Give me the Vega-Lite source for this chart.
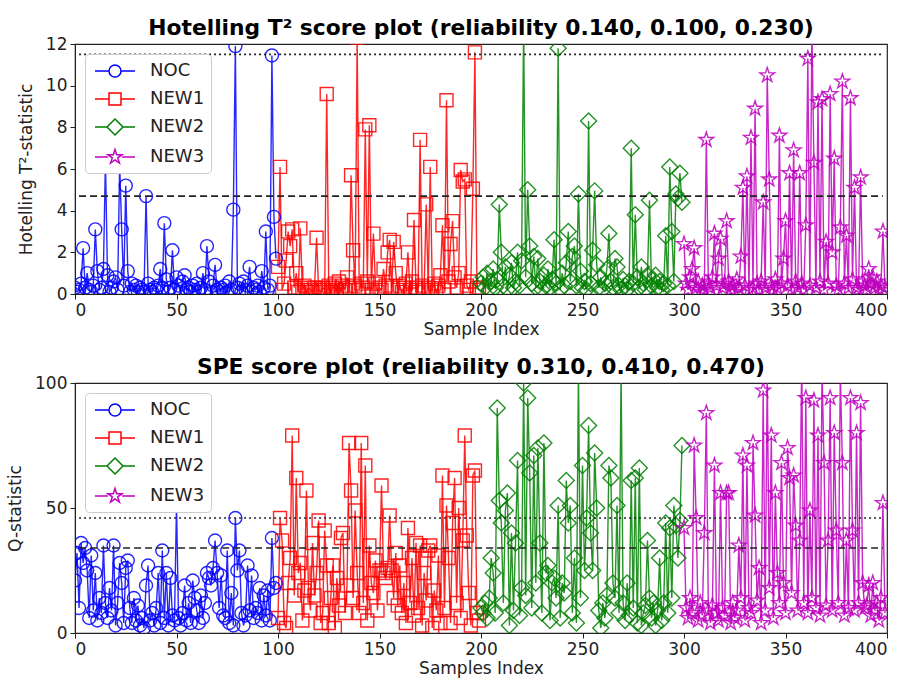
{
"$schema": "https://vega.github.io/schema/vega-lite/v6.json",
"background": "white",
"padding": {"left": 5, "top": 17, "right": 5, "bottom": 2},
"spacing": 18,
"config": {
  "font": "DejaVu Sans",
  "view": {"stroke": "#222", "strokeWidth": 1.2},
  "axis": {"grid": false, "domainColor": "#222", "tickColor": "#222", "labelColor": "#222", "titleColor": "#222", "labelFontSize": 17, "titleFontSize": 17, "titleFontWeight": "normal", "tickSize": 5, "labelPadding": 3, "labelFont": "DejaVu Sans", "titleFont": "DejaVu Sans"},
  "axisX": {"titlePadding": 3},
  "axisY": {"titlePadding": 10},
  "title": {"font": "DejaVu Sans", "fontSize": 21.8, "fontWeight": "bold", "color": "#000", "frame": "group", "anchor": "middle", "offset": -5}
},
"data": {"values": [
{"i":0,"g":"NOC","t":0.3,"q":21},{"i":1,"g":"NOC","t":0.1,"q":32},{"i":2,"g":"NOC","t":0.2,"q":10},{"i":3,"g":"NOC","t":0.5,"q":36},{"i":4,"g":"NOC","t":2.2,"q":28},{"i":5,"g":"NOC","t":0.3,"q":34},{"i":6,"g":"NOC","t":1.0,"q":25},{"i":7,"g":"NOC","t":0.2,"q":6},{"i":8,"g":"NOC","t":0.1,"q":31},{"i":9,"g":"NOC","t":0.4,"q":9},
{"i":10,"g":"NOC","t":3.1,"q":24},{"i":11,"g":"NOC","t":1.1,"q":5},{"i":12,"g":"NOC","t":0.2,"q":14},{"i":13,"g":"NOC","t":0.3,"q":8},{"i":14,"g":"NOC","t":1.2,"q":35},{"i":15,"g":"NOC","t":6.4,"q":12},{"i":16,"g":"NOC","t":0.9,"q":6},{"i":17,"g":"NOC","t":0.1,"q":18},{"i":18,"g":"NOC","t":0.3,"q":9},{"i":19,"g":"NOC","t":0.6,"q":35},
{"i":20,"g":"NOC","t":0.8,"q":3},{"i":21,"g":"NOC","t":0.2,"q":12},{"i":22,"g":"NOC","t":6.2,"q":28},{"i":23,"g":"NOC","t":3.1,"q":20},{"i":24,"g":"NOC","t":0.4,"q":4},{"i":25,"g":"NOC","t":5.2,"q":26},{"i":26,"g":"NOC","t":1.1,"q":29},{"i":27,"g":"NOC","t":0.1,"q":10},{"i":28,"g":"NOC","t":0.5,"q":4},{"i":29,"g":"NOC","t":0.2,"q":14},
{"i":30,"g":"NOC","t":0.4,"q":5},{"i":31,"g":"NOC","t":0.1,"q":11},{"i":32,"g":"NOC","t":0.3,"q":3},{"i":33,"g":"NOC","t":0.2,"q":6},{"i":34,"g":"NOC","t":0.1,"q":2},{"i":35,"g":"NOC","t":4.7,"q":19},{"i":36,"g":"NOC","t":0.5,"q":27},{"i":37,"g":"NOC","t":0.2,"q":5},{"i":38,"g":"NOC","t":0.1,"q":8},{"i":39,"g":"NOC","t":0.3,"q":3},
{"i":40,"g":"NOC","t":0.2,"q":10},{"i":41,"g":"NOC","t":0.4,"q":24},{"i":42,"g":"NOC","t":1.2,"q":4},{"i":43,"g":"NOC","t":0.3,"q":33},{"i":44,"g":"NOC","t":3.4,"q":6},{"i":45,"g":"NOC","t":0.7,"q":24},{"i":46,"g":"NOC","t":0.1,"q":3},{"i":47,"g":"NOC","t":0.3,"q":22},{"i":48,"g":"NOC","t":2.1,"q":7},{"i":49,"g":"NOC","t":0.2,"q":5},
{"i":50,"g":"NOC","t":0.8,"q":51},{"i":51,"g":"NOC","t":0.4,"q":6},{"i":52,"g":"NOC","t":0.1,"q":3},{"i":53,"g":"NOC","t":0.6,"q":8},{"i":54,"g":"NOC","t":0.9,"q":19},{"i":55,"g":"NOC","t":0.2,"q":5},{"i":56,"g":"NOC","t":0.3,"q":12},{"i":57,"g":"NOC","t":0.1,"q":4},{"i":58,"g":"NOC","t":0.4,"q":21},{"i":59,"g":"NOC","t":0.2,"q":14},
{"i":60,"g":"NOC","t":0.5,"q":9},{"i":61,"g":"NOC","t":0.1,"q":4},{"i":62,"g":"NOC","t":0.3,"q":15},{"i":63,"g":"NOC","t":1.0,"q":6},{"i":64,"g":"NOC","t":0.2,"q":12},{"i":65,"g":"NOC","t":2.3,"q":24},{"i":66,"g":"NOC","t":0.6,"q":22},{"i":67,"g":"NOC","t":0.1,"q":19},{"i":68,"g":"NOC","t":0.4,"q":26},{"i":69,"g":"NOC","t":1.4,"q":37},
{"i":70,"g":"NOC","t":0.2,"q":24},{"i":71,"g":"NOC","t":0.1,"q":10},{"i":72,"g":"NOC","t":0.3,"q":23},{"i":73,"g":"NOC","t":0.2,"q":7},{"i":74,"g":"NOC","t":0.4,"q":6},{"i":75,"g":"NOC","t":0.1,"q":33},{"i":76,"g":"NOC","t":0.6,"q":4},{"i":77,"g":"NOC","t":0.2,"q":16},{"i":78,"g":"NOC","t":4.05,"q":3},{"i":79,"g":"NOC","t":11.9,"q":46},
{"i":80,"g":"NOC","t":0.3,"q":25},{"i":81,"g":"NOC","t":0.5,"q":33},{"i":82,"g":"NOC","t":0.1,"q":8},{"i":83,"g":"NOC","t":0.6,"q":3},{"i":84,"g":"NOC","t":0.2,"q":7},{"i":85,"g":"NOC","t":0.4,"q":27},{"i":86,"g":"NOC","t":1.3,"q":9},{"i":87,"g":"NOC","t":0.1,"q":23},{"i":88,"g":"NOC","t":0.3,"q":6},{"i":89,"g":"NOC","t":0.2,"q":10},
{"i":90,"g":"NOC","t":0.4,"q":8},{"i":91,"g":"NOC","t":0.1,"q":18},{"i":92,"g":"NOC","t":1.1,"q":5},{"i":93,"g":"NOC","t":0.3,"q":15},{"i":94,"g":"NOC","t":3.0,"q":7},{"i":95,"g":"NOC","t":0.2,"q":17},{"i":96,"g":"NOC","t":0.4,"q":5},{"i":97,"g":"NOC","t":11.45,"q":38},{"i":98,"g":"NOC","t":3.7,"q":18},{"i":99,"g":"NOC","t":1.7,"q":20},
{"i":100,"g":"NEW1","t":1.3,"q":6},{"i":101,"g":"NEW1","t":6.1,"q":46},{"i":102,"g":"NEW1","t":0.2,"q":37},{"i":103,"g":"NEW1","t":0.5,"q":4},{"i":104,"g":"NEW1","t":1.6,"q":2},{"i":105,"g":"NEW1","t":3.0,"q":20},{"i":106,"g":"NEW1","t":2.3,"q":30},{"i":107,"g":"NEW1","t":3.1,"q":79},{"i":108,"g":"NEW1","t":0.3,"q":15},{"i":109,"g":"NEW1","t":1.0,"q":62},
{"i":110,"g":"NEW1","t":0.1,"q":24},{"i":111,"g":"NEW1","t":3.15,"q":28},{"i":112,"g":"NEW1","t":0.2,"q":5},{"i":113,"g":"NEW1","t":0.4,"q":17},{"i":114,"g":"NEW1","t":0.1,"q":57},{"i":115,"g":"NEW1","t":0.3,"q":18},{"i":116,"g":"NEW1","t":0.2,"q":9},{"i":117,"g":"NEW1","t":0.1,"q":36},{"i":118,"g":"NEW1","t":0.3,"q":15},{"i":119,"g":"NEW1","t":2.7,"q":24},
{"i":120,"g":"NEW1","t":0.2,"q":45},{"i":121,"g":"NEW1","t":0.1,"q":4},{"i":122,"g":"NEW1","t":0.3,"q":8},{"i":123,"g":"NEW1","t":0.2,"q":41},{"i":124,"g":"NEW1","t":9.6,"q":27},{"i":125,"g":"NEW1","t":0.4,"q":4},{"i":126,"g":"NEW1","t":0.1,"q":14},{"i":127,"g":"NEW1","t":0.3,"q":27},{"i":128,"g":"NEW1","t":0.5,"q":2},{"i":129,"g":"NEW1","t":0.2,"q":22},
{"i":130,"g":"NEW1","t":0.6,"q":11},{"i":131,"g":"NEW1","t":0.1,"q":38},{"i":132,"g":"NEW1","t":0.4,"q":40},{"i":133,"g":"NEW1","t":0.2,"q":8},{"i":134,"g":"NEW1","t":0.8,"q":19},{"i":135,"g":"NEW1","t":0.3,"q":76},{"i":136,"g":"NEW1","t":5.7,"q":57},{"i":137,"g":"NEW1","t":2.1,"q":14},{"i":138,"g":"NEW1","t":0.4,"q":49},{"i":139,"g":"NEW1","t":12.3,"q":24},
{"i":140,"g":"NEW1","t":0.2,"q":8},{"i":141,"g":"NEW1","t":0.5,"q":76},{"i":142,"g":"NEW1","t":0.3,"q":12},{"i":143,"g":"NEW1","t":7.9,"q":67},{"i":144,"g":"NEW1","t":0.6,"q":5},{"i":145,"g":"NEW1","t":8.1,"q":35},{"i":146,"g":"NEW1","t":0.2,"q":20},{"i":147,"g":"NEW1","t":2.9,"q":16},{"i":148,"g":"NEW1","t":0.5,"q":29},{"i":149,"g":"NEW1","t":0.1,"q":9},
{"i":150,"g":"NEW1","t":0.3,"q":25},{"i":151,"g":"NEW1","t":0.2,"q":59},{"i":152,"g":"NEW1","t":1.2,"q":24},{"i":153,"g":"NEW1","t":0.4,"q":22},{"i":154,"g":"NEW1","t":2.0,"q":26},{"i":155,"g":"NEW1","t":2.6,"q":47},{"i":156,"g":"NEW1","t":0.3,"q":25},{"i":157,"g":"NEW1","t":2.5,"q":14},{"i":158,"g":"NEW1","t":1.0,"q":32},{"i":159,"g":"NEW1","t":0.2,"q":11},
{"i":160,"g":"NEW1","t":0.4,"q":27},{"i":161,"g":"NEW1","t":0.1,"q":8},{"i":162,"g":"NEW1","t":0.3,"q":20},{"i":163,"g":"NEW1","t":0.5,"q":4},{"i":164,"g":"NEW1","t":2.0,"q":42},{"i":165,"g":"NEW1","t":0.2,"q":12},{"i":166,"g":"NEW1","t":0.6,"q":30},{"i":167,"g":"NEW1","t":3.55,"q":7},{"i":168,"g":"NEW1","t":0.3,"q":36},{"i":169,"g":"NEW1","t":0.1,"q":10},
{"i":170,"g":"NEW1","t":7.4,"q":35},{"i":171,"g":"NEW1","t":0.4,"q":3},{"i":172,"g":"NEW1","t":0.2,"q":24},{"i":173,"g":"NEW1","t":4.3,"q":13},{"i":174,"g":"NEW1","t":0.3,"q":33},{"i":175,"g":"NEW1","t":6.1,"q":35},{"i":176,"g":"NEW1","t":0.2,"q":2},{"i":177,"g":"NEW1","t":0.5,"q":17},{"i":178,"g":"NEW1","t":0.1,"q":9},{"i":179,"g":"NEW1","t":0.4,"q":31},
{"i":180,"g":"NEW1","t":0.9,"q":4},{"i":181,"g":"NEW1","t":3.3,"q":63},{"i":182,"g":"NEW1","t":0.2,"q":10},{"i":183,"g":"NEW1","t":9.3,"q":51},{"i":184,"g":"NEW1","t":0.6,"q":30},{"i":185,"g":"NEW1","t":2.4,"q":4},{"i":186,"g":"NEW1","t":3.5,"q":44},{"i":187,"g":"NEW1","t":0.8,"q":62},{"i":188,"g":"NEW1","t":0.3,"q":12},{"i":189,"g":"NEW1","t":1.0,"q":50},
{"i":190,"g":"NEW1","t":5.95,"q":6},{"i":191,"g":"NEW1","t":5.4,"q":37},{"i":192,"g":"NEW1","t":5.5,"q":79},{"i":193,"g":"NEW1","t":0.4,"q":39},{"i":194,"g":"NEW1","t":0.2,"q":16},{"i":195,"g":"NEW1","t":0.6,"q":3},{"i":196,"g":"NEW1","t":5.05,"q":63},{"i":197,"g":"NEW1","t":11.6,"q":65},{"i":198,"g":"NEW1","t":0.3,"q":8},{"i":199,"g":"NEW1","t":0.2,"q":5},
{"i":200,"g":"NEW2","t":0.5,"q":10},{"i":201,"g":"NEW2","t":0.8,"q":8},{"i":202,"g":"NEW2","t":0.3,"q":12},{"i":203,"g":"NEW2","t":1.0,"q":6},{"i":204,"g":"NEW2","t":0.2,"q":14},{"i":205,"g":"NEW2","t":0.6,"q":30},{"i":206,"g":"NEW2","t":1.2,"q":24},{"i":207,"g":"NEW2","t":0.3,"q":8},{"i":208,"g":"NEW2","t":0.7,"q":90},{"i":209,"g":"NEW2","t":4.3,"q":53},
{"i":210,"g":"NEW2","t":2.0,"q":44},{"i":211,"g":"NEW2","t":0.4,"q":12},{"i":212,"g":"NEW2","t":1.3,"q":49},{"i":213,"g":"NEW2","t":0.2,"q":56},{"i":214,"g":"NEW2","t":0.9,"q":3},{"i":215,"g":"NEW2","t":1.5,"q":40},{"i":216,"g":"NEW2","t":0.3,"q":9},{"i":217,"g":"NEW2","t":0.6,"q":36},{"i":218,"g":"NEW2","t":2.0,"q":69},{"i":219,"g":"NEW2","t":0.4,"q":7},
{"i":220,"g":"NEW2","t":1.6,"q":18},{"i":221,"g":"NEW2","t":13,"q":100},{"i":222,"g":"NEW2","t":0.8,"q":15},{"i":223,"g":"NEW2","t":5.0,"q":94},{"i":224,"g":"NEW2","t":2.3,"q":64},{"i":225,"g":"NEW2","t":0.5,"q":10},{"i":226,"g":"NEW2","t":1.8,"q":71},{"i":227,"g":"NEW2","t":0.3,"q":20},{"i":228,"g":"NEW2","t":1.7,"q":74},{"i":229,"g":"NEW2","t":0.6,"q":36},
{"i":230,"g":"NEW2","t":0.2,"q":8},{"i":231,"g":"NEW2","t":0.9,"q":76},{"i":232,"g":"NEW2","t":0.4,"q":24},{"i":233,"g":"NEW2","t":1.2,"q":27},{"i":234,"g":"NEW2","t":0.3,"q":5},{"i":235,"g":"NEW2","t":0.7,"q":20},{"i":236,"g":"NEW2","t":2.6,"q":22},{"i":237,"g":"NEW2","t":0.5,"q":14},{"i":238,"g":"NEW2","t":11.8,"q":51},{"i":239,"g":"NEW2","t":0.2,"q":6},
{"i":240,"g":"NEW2","t":1.0,"q":20},{"i":241,"g":"NEW2","t":0.4,"q":16},{"i":242,"g":"NEW2","t":1.5,"q":61},{"i":243,"g":"NEW2","t":3.0,"q":44},{"i":244,"g":"NEW2","t":0.6,"q":51},{"i":245,"g":"NEW2","t":1.8,"q":8},{"i":246,"g":"NEW2","t":2.3,"q":30},{"i":247,"g":"NEW2","t":0.4,"q":4},{"i":248,"g":"NEW2","t":4.8,"q":105},{"i":249,"g":"NEW2","t":1.1,"q":14},
{"i":250,"g":"NEW2","t":0.3,"q":67},{"i":251,"g":"NEW2","t":0.6,"q":25},{"i":252,"g":"NEW2","t":0.2,"q":46},{"i":253,"g":"NEW2","t":8.3,"q":83},{"i":254,"g":"NEW2","t":0.5,"q":40},{"i":255,"g":"NEW2","t":2.1,"q":25},{"i":256,"g":"NEW2","t":4.95,"q":72},{"i":257,"g":"NEW2","t":1.4,"q":50},{"i":258,"g":"NEW2","t":0.3,"q":9},{"i":259,"g":"NEW2","t":0.8,"q":2},
{"i":260,"g":"NEW2","t":0.2,"q":12},{"i":261,"g":"NEW2","t":0.5,"q":6},{"i":262,"g":"NEW2","t":1.2,"q":15},{"i":263,"g":"NEW2","t":2.9,"q":67},{"i":264,"g":"NEW2","t":0.6,"q":62},{"i":265,"g":"NEW2","t":0.3,"q":20},{"i":266,"g":"NEW2","t":1.7,"q":14},{"i":267,"g":"NEW2","t":1.3,"q":51},{"i":268,"g":"NEW2","t":0.4,"q":8},{"i":269,"g":"NEW2","t":0.2,"q":105},
{"i":270,"g":"NEW2","t":0.7,"q":12},{"i":271,"g":"NEW2","t":0.4,"q":5},{"i":272,"g":"NEW2","t":0.2,"q":20},{"i":273,"g":"NEW2","t":0.6,"q":7},{"i":274,"g":"NEW2","t":7.0,"q":61},{"i":275,"g":"NEW2","t":0.5,"q":10},{"i":276,"g":"NEW2","t":3.8,"q":62},{"i":277,"g":"NEW2","t":0.8,"q":4},{"i":278,"g":"NEW2","t":0.3,"q":66},{"i":279,"g":"NEW2","t":1.3,"q":3},
{"i":280,"g":"NEW2","t":0.5,"q":8},{"i":281,"g":"NEW2","t":0.2,"q":11},{"i":282,"g":"NEW2","t":0.9,"q":37},{"i":283,"g":"NEW2","t":4.5,"q":14},{"i":284,"g":"NEW2","t":0.4,"q":6},{"i":285,"g":"NEW2","t":0.7,"q":12},{"i":286,"g":"NEW2","t":0.9,"q":3},{"i":287,"g":"NEW2","t":0.3,"q":9},{"i":288,"g":"NEW2","t":0.6,"q":30},{"i":289,"g":"NEW2","t":0.2,"q":5},
{"i":290,"g":"NEW2","t":0.5,"q":12},{"i":291,"g":"NEW2","t":2.8,"q":44},{"i":292,"g":"NEW2","t":0.4,"q":8},{"i":293,"g":"NEW2","t":6.1,"q":42},{"i":294,"g":"NEW2","t":3.0,"q":14},{"i":295,"g":"NEW2","t":0.6,"q":51},{"i":296,"g":"NEW2","t":4.8,"q":43},{"i":297,"g":"NEW2","t":4.6,"q":30},{"i":298,"g":"NEW2","t":5.8,"q":45},{"i":299,"g":"NEW2","t":4.4,"q":75},
{"i":300,"g":"NEW3","t":2.4,"q":42},{"i":301,"g":"NEW3","t":0.5,"q":10},{"i":302,"g":"NEW3","t":0.2,"q":6},{"i":303,"g":"NEW3","t":0.8,"q":14},{"i":304,"g":"NEW3","t":1.2,"q":8},{"i":305,"g":"NEW3","t":2.2,"q":75},{"i":306,"g":"NEW3","t":0.3,"q":46},{"i":307,"g":"NEW3","t":0.6,"q":5},{"i":308,"g":"NEW3","t":0.1,"q":12},{"i":309,"g":"NEW3","t":0.4,"q":7},
{"i":310,"g":"NEW3","t":0.2,"q":40},{"i":311,"g":"NEW3","t":7.4,"q":88},{"i":312,"g":"NEW3","t":0.5,"q":9},{"i":313,"g":"NEW3","t":0.3,"q":4},{"i":314,"g":"NEW3","t":0.8,"q":11},{"i":315,"g":"NEW3","t":2.9,"q":67},{"i":316,"g":"NEW3","t":0.4,"q":8},{"i":317,"g":"NEW3","t":1.7,"q":5},{"i":318,"g":"NEW3","t":2.65,"q":56},{"i":319,"g":"NEW3","t":0.3,"q":10},
{"i":320,"g":"NEW3","t":0.5,"q":7},{"i":321,"g":"NEW3","t":3.5,"q":56},{"i":322,"g":"NEW3","t":0.6,"q":56},{"i":323,"g":"NEW3","t":0.2,"q":4},{"i":324,"g":"NEW3","t":0.4,"q":12},{"i":325,"g":"NEW3","t":0.1,"q":6},{"i":326,"g":"NEW3","t":0.7,"q":9},{"i":327,"g":"NEW3","t":0.3,"q":35},{"i":328,"g":"NEW3","t":1.8,"q":14},{"i":329,"g":"NEW3","t":5.1,"q":71},
{"i":330,"g":"NEW3","t":0.4,"q":5},{"i":331,"g":"NEW3","t":5.65,"q":67},{"i":332,"g":"NEW3","t":0.2,"q":10},{"i":333,"g":"NEW3","t":7.5,"q":8},{"i":334,"g":"NEW3","t":0.3,"q":76},{"i":335,"g":"NEW3","t":8.9,"q":47},{"i":336,"g":"NEW3","t":0.5,"q":13},{"i":337,"g":"NEW3","t":0.2,"q":26},{"i":338,"g":"NEW3","t":0.6,"q":4},{"i":339,"g":"NEW3","t":4.4,"q":97},
{"i":340,"g":"NEW3","t":0.3,"q":9},{"i":341,"g":"NEW3","t":10.5,"q":105},{"i":342,"g":"NEW3","t":5.5,"q":18},{"i":343,"g":"NEW3","t":0.4,"q":79},{"i":344,"g":"NEW3","t":0.2,"q":6},{"i":345,"g":"NEW3","t":0.7,"q":56},{"i":346,"g":"NEW3","t":0.3,"q":24},{"i":347,"g":"NEW3","t":7.6,"q":12},{"i":348,"g":"NEW3","t":0.5,"q":68},{"i":349,"g":"NEW3","t":1.7,"q":20},
{"i":350,"g":"NEW3","t":3.5,"q":8},{"i":351,"g":"NEW3","t":0.4,"q":74},{"i":352,"g":"NEW3","t":5.8,"q":62},{"i":353,"g":"NEW3","t":0.2,"q":16},{"i":354,"g":"NEW3","t":6.9,"q":63},{"i":355,"g":"NEW3","t":0.6,"q":43},{"i":356,"g":"NEW3","t":0.3,"q":9},{"i":357,"g":"NEW3","t":5.8,"q":37},{"i":358,"g":"NEW3","t":0.5,"q":110},{"i":359,"g":"NEW3","t":0.2,"q":12},
{"i":360,"g":"NEW3","t":3.3,"q":94},{"i":361,"g":"NEW3","t":11.3,"q":8},{"i":362,"g":"NEW3","t":0.4,"q":49},{"i":363,"g":"NEW3","t":12.8,"q":14},{"i":364,"g":"NEW3","t":6.3,"q":93},{"i":365,"g":"NEW3","t":0.3,"q":10},{"i":366,"g":"NEW3","t":9.2,"q":79},{"i":367,"g":"NEW3","t":0.6,"q":7},{"i":368,"g":"NEW3","t":9.35,"q":105},{"i":369,"g":"NEW3","t":0.2,"q":68},
{"i":370,"g":"NEW3","t":2.5,"q":11},{"i":371,"g":"NEW3","t":0.5,"q":37},{"i":372,"g":"NEW3","t":9.6,"q":94},{"i":373,"g":"NEW3","t":2.0,"q":9},{"i":374,"g":"NEW3","t":6.5,"q":80},{"i":375,"g":"NEW3","t":0.4,"q":41},{"i":376,"g":"NEW3","t":0.2,"q":12},{"i":377,"g":"NEW3","t":3.2,"q":105},{"i":378,"g":"NEW3","t":10.2,"q":68},{"i":379,"g":"NEW3","t":0.5,"q":7},
{"i":380,"g":"NEW3","t":2.8,"q":37},{"i":381,"g":"NEW3","t":0.3,"q":10},{"i":382,"g":"NEW3","t":9.4,"q":94},{"i":383,"g":"NEW3","t":0.7,"q":41},{"i":384,"g":"NEW3","t":5.1,"q":9},{"i":385,"g":"NEW3","t":0.3,"q":80},{"i":386,"g":"NEW3","t":0.2,"q":12},{"i":387,"g":"NEW3","t":5.6,"q":92},{"i":388,"g":"NEW3","t":0.6,"q":20},{"i":389,"g":"NEW3","t":0.4,"q":10},
{"i":390,"g":"NEW3","t":0.2,"q":11},{"i":391,"g":"NEW3","t":1.2,"q":19},{"i":392,"g":"NEW3","t":0.5,"q":7},{"i":393,"g":"NEW3","t":0.8,"q":20},{"i":394,"g":"NEW3","t":0.3,"q":9},{"i":395,"g":"NEW3","t":0.6,"q":12},{"i":396,"g":"NEW3","t":0.2,"q":5},{"i":397,"g":"NEW3","t":0.4,"q":14},{"i":398,"g":"NEW3","t":3.0,"q":52},{"i":399,"g":"NEW3","t":0.3,"q":8}
]},
"resolve": {"scale": {"color": "independent", "shape": "independent"}, "legend": {"color": "independent"}},
"vconcat": [
{
  "width": 812, "height": 250,
  "title": {"text": "Hotelling T² score plot (reliability 0.140, 0.100, 0.230)"},
  "encoding": {
    "x": {"field": "i", "type": "quantitative", "scale": {"domain": [0, 400], "nice": false}, "axis": {"values": [0, 50, 100, 150, 200, 250, 300, 350, 400], "title": "Sample Index"}},
    "y": {"field": "t", "type": "quantitative", "scale": {"domain": [0, 12], "nice": false}, "axis": {"values": [0, 2, 4, 6, 8, 10, 12], "title": "Hotelling T²-statistic"}},
    "color": {"field": "g", "type": "nominal", "scale": {"domain": ["NOC", "NEW1", "NEW2", "NEW3"], "range": ["#0000ff", "#ff0000", "#008000", "#bf00bf"]},
      "legend": {"title": null, "orient": "top-left", "offset": 10, "padding": 6, "fillColor": "white", "strokeColor": "#cccccc", "cornerRadius": 4, "labelFontSize": 18, "labelFont": "DejaVu Sans", "labelColor": "#222", "symbolSize": 400, "labelOffset": 37, "rowPadding": 8, "symbolStrokeWidth": 1.5, "symbolOpacity": 1}}
  },
  "layer": [
    {"mark": {"type": "line", "strokeWidth": 1.4, "clip": true, "opacity": 0.85}},
    {"transform": [{"filter": "datum.i < 0"}], "mark": {"type": "point", "filled": false},
     "encoding": {"shape": {"field": "g", "type": "nominal", "legend": null, "scale": {"domain": ["NOC", "NEW1", "NEW2", "NEW3"], "range": ["M-0.7,0H0.7M1.9,0H3.3M1.9,0A0.6,0.6,0,1,1,0.7,0A0.6,0.6,0,1,1,1.9,0Z", "M-0.7,0H0.7M1.9,0H3.3M0.7,-0.6H1.9V0.6H0.7Z", "M-0.7,0H0.5M2.1,0H3.3M1.3,-0.8L2.1,0L1.3,0.8L0.5,0Z", "M-0.7,0H0.59M2.01,0H3.3M1.3,-0.75L1.468,-0.232L2.013,-0.232L1.572,0.089L1.741,0.607L1.3,0.287L0.859,0.607L1.028,0.089L0.587,-0.232L1.132,-0.232Z"]}}}},
    {"transform": [{"filter": "datum.g === 'NOC'"}], "mark": {"type": "point", "filled": false, "shape": "circle", "size": 169, "color": "#0000ff", "strokeWidth": 1.4, "opacity": 0.85, "clip": true}, "encoding": {"color": null}},
    {"transform": [{"filter": "datum.g === 'NEW1'"}], "mark": {"type": "point", "filled": false, "shape": "square", "size": 169, "color": "#ff0000", "strokeWidth": 1.4, "opacity": 0.85, "clip": true}, "encoding": {"color": null}},
    {"transform": [{"filter": "datum.g === 'NEW2'"}], "mark": {"type": "point", "filled": false, "shape": "diamond", "size": 256, "color": "#008000", "strokeWidth": 1.4, "opacity": 0.85, "clip": true}, "encoding": {"color": null}},
    {"transform": [{"filter": "datum.g === 'NEW3'"}], "mark": {"type": "point", "filled": false, "shape": "M0,-1L0.2245,-0.309L0.951,-0.309L0.363,0.118L0.588,0.809L0,0.382L-0.588,0.809L-0.363,0.118L-0.951,-0.309L-0.2245,-0.309Z", "size": 240, "color": "#bf00bf", "strokeWidth": 1.4, "opacity": 0.85, "clip": true}, "encoding": {"color": null}},
    {"data": {"values": [{"lim": 11.5, "a": 2, "b": 398}]}, "mark": {"type": "rule", "strokeDash": [2, 3], "color": "#222", "strokeWidth": 1.6},
     "encoding": {"y": {"field": "lim", "type": "quantitative"}, "x": {"field": "a", "type": "quantitative"}, "x2": {"field": "b"}, "color": null}},
    {"data": {"values": [{"lim": 4.7, "a": 2, "b": 398}]}, "mark": {"type": "rule", "strokeDash": [7, 4], "color": "#222", "strokeWidth": 1.6},
     "encoding": {"y": {"field": "lim", "type": "quantitative"}, "x": {"field": "a", "type": "quantitative"}, "x2": {"field": "b"}, "color": null}}
  ]
},
{
  "width": 812, "height": 250,
  "title": {"text": "SPE score plot (reliability 0.310, 0.410, 0.470)"},
  "encoding": {
    "x": {"field": "i", "type": "quantitative", "scale": {"domain": [0, 400], "nice": false}, "axis": {"values": [0, 50, 100, 150, 200, 250, 300, 350, 400], "title": "Samples Index"}},
    "y": {"field": "q", "type": "quantitative", "scale": {"domain": [0, 100], "nice": false}, "axis": {"values": [0, 50, 100], "title": "Q-statistic"}},
    "color": {"field": "g", "type": "nominal", "scale": {"domain": ["NOC", "NEW1", "NEW2", "NEW3"], "range": ["#0000ff", "#ff0000", "#008000", "#bf00bf"]},
      "legend": {"title": null, "orient": "top-left", "offset": 10, "padding": 6, "fillColor": "white", "strokeColor": "#cccccc", "cornerRadius": 4, "labelFontSize": 18, "labelFont": "DejaVu Sans", "labelColor": "#222", "symbolSize": 400, "labelOffset": 37, "rowPadding": 8, "symbolStrokeWidth": 1.5, "symbolOpacity": 1}}
  },
  "layer": [
    {"mark": {"type": "line", "strokeWidth": 1.4, "clip": true, "opacity": 0.85}},
    {"transform": [{"filter": "datum.i < 0"}], "mark": {"type": "point", "filled": false},
     "encoding": {"shape": {"field": "g", "type": "nominal", "legend": null, "scale": {"domain": ["NOC", "NEW1", "NEW2", "NEW3"], "range": ["M-0.7,0H0.7M1.9,0H3.3M1.9,0A0.6,0.6,0,1,1,0.7,0A0.6,0.6,0,1,1,1.9,0Z", "M-0.7,0H0.7M1.9,0H3.3M0.7,-0.6H1.9V0.6H0.7Z", "M-0.7,0H0.5M2.1,0H3.3M1.3,-0.8L2.1,0L1.3,0.8L0.5,0Z", "M-0.7,0H0.59M2.01,0H3.3M1.3,-0.75L1.468,-0.232L2.013,-0.232L1.572,0.089L1.741,0.607L1.3,0.287L0.859,0.607L1.028,0.089L0.587,-0.232L1.132,-0.232Z"]}}}},
    {"transform": [{"filter": "datum.g === 'NOC'"}], "mark": {"type": "point", "filled": false, "shape": "circle", "size": 169, "color": "#0000ff", "strokeWidth": 1.4, "opacity": 0.85, "clip": true}, "encoding": {"color": null}},
    {"transform": [{"filter": "datum.g === 'NEW1'"}], "mark": {"type": "point", "filled": false, "shape": "square", "size": 169, "color": "#ff0000", "strokeWidth": 1.4, "opacity": 0.85, "clip": true}, "encoding": {"color": null}},
    {"transform": [{"filter": "datum.g === 'NEW2'"}], "mark": {"type": "point", "filled": false, "shape": "diamond", "size": 256, "color": "#008000", "strokeWidth": 1.4, "opacity": 0.85, "clip": true}, "encoding": {"color": null}},
    {"transform": [{"filter": "datum.g === 'NEW3'"}], "mark": {"type": "point", "filled": false, "shape": "M0,-1L0.2245,-0.309L0.951,-0.309L0.363,0.118L0.588,0.809L0,0.382L-0.588,0.809L-0.363,0.118L-0.951,-0.309L-0.2245,-0.309Z", "size": 240, "color": "#bf00bf", "strokeWidth": 1.4, "opacity": 0.85, "clip": true}, "encoding": {"color": null}},
    {"data": {"values": [{"lim": 46, "a": 2, "b": 398}]}, "mark": {"type": "rule", "strokeDash": [2, 3], "color": "#222", "strokeWidth": 1.6},
     "encoding": {"y": {"field": "lim", "type": "quantitative"}, "x": {"field": "a", "type": "quantitative"}, "x2": {"field": "b"}, "color": null}},
    {"data": {"values": [{"lim": 34, "a": 2, "b": 398}]}, "mark": {"type": "rule", "strokeDash": [7, 4], "color": "#222", "strokeWidth": 1.6},
     "encoding": {"y": {"field": "lim", "type": "quantitative"}, "x": {"field": "a", "type": "quantitative"}, "x2": {"field": "b"}, "color": null}}
  ]
}
]
}
